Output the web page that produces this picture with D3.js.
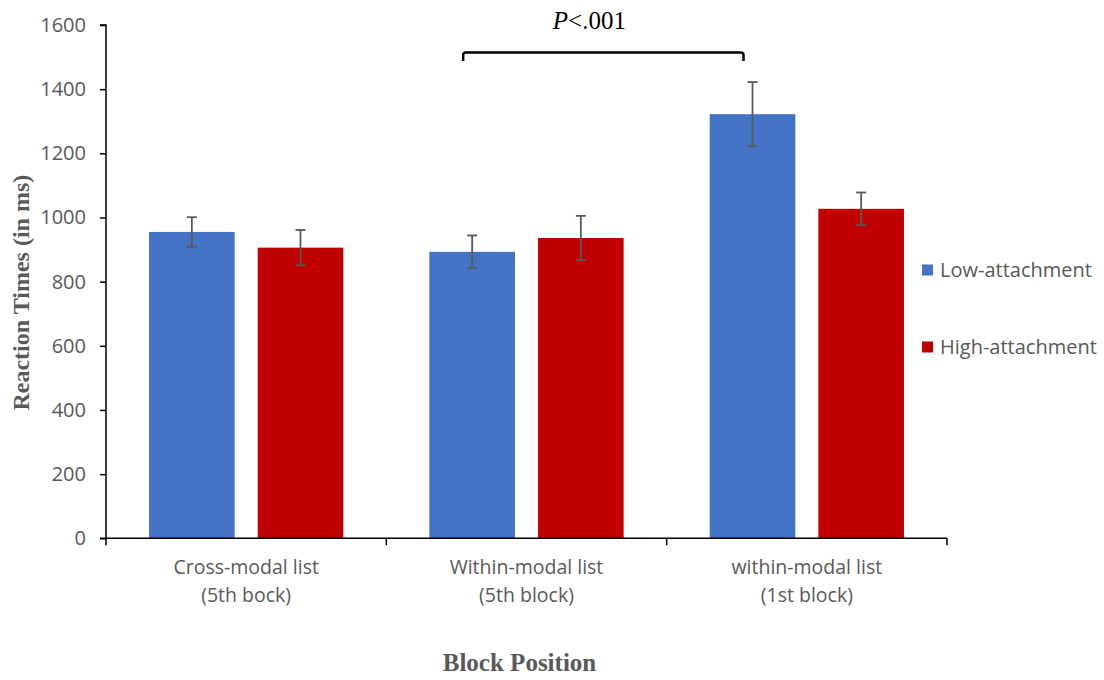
<!DOCTYPE html>
<html><head><meta charset="utf-8">
<script src="https://cdn.jsdelivr.net/npm/d3@7"></script>
<style>body{margin:0;background:#fff}</style>
</head><body>
<svg id="c" width="1104" height="680"></svg>
<script>
const categories = [["Cross-modal list","(5th bock)"],["Within-modal list","(5th block)"],["within-modal list","(1st block)"]];
const seriesNames = ["Low-attachment","High-attachment"];
const lowValues = [955, 893, 1322];
const highValues = [906, 936, 1027];
const lowErrors = [46, 51, 100];
const highErrors = [55, 69, 51];
const yTicks = [0,200,400,600,800,1000,1200,1400,1600];
const colors = ["#4472C4","#C00000"];

(function(){
const svg = d3.select("#c");
const pLeft = 106, pRight = 947, pTop = 25, pBottom = 538.3;
const catIdx = [0,1,2];
const x = d3.scaleBand().domain(catIdx).range([pLeft,pRight]).paddingInner(0).paddingOuter(0);
const xs = d3.scaleBand().domain([0,1]).range([0,x.bandwidth()]).paddingInner(0.212).paddingOuter(0.396);
const y = d3.scaleLinear().domain([0,1600]).range([pBottom,pTop]);

const data = [];
catIdx.forEach(i=>{
  data.push({c:i,s:0,v:lowValues[i],e:lowErrors[i]});
  data.push({c:i,s:1,v:highValues[i],e:highErrors[i]});
});

svg.append("g").selectAll("rect").data(data).join("rect")
  .attr("x",d=>x(d.c)+xs(d.s)).attr("width",xs.bandwidth())
  .attr("y",d=>y(d.v)).attr("height",d=>y(0)-y(d.v))
  .attr("fill",d=>colors[d.s]);

const eg = svg.append("g").attr("stroke","#595959").attr("stroke-width",1.8);
data.forEach(d=>{
  const cx = x(d.c)+xs(d.s)+xs.bandwidth()/2;
  eg.append("line").attr("x1",cx).attr("x2",cx).attr("y1",y(d.v+d.e)).attr("y2",y(d.v-d.e));
  eg.append("line").attr("x1",cx-5).attr("x2",cx+5).attr("y1",y(d.v+d.e)).attr("y2",y(d.v+d.e));
  eg.append("line").attr("x1",cx-5).attr("x2",cx+5).attr("y1",y(d.v-d.e)).attr("y2",y(d.v-d.e));
});

const yAxis = svg.append("g").attr("transform",`translate(${pLeft},0)`)
  .call(d3.axisLeft(y).tickValues(yTicks).tickSize(6).tickPadding(14).tickFormat(d3.format("d")));
yAxis.select(".domain").attr("stroke","#000").attr("stroke-width",1.5).attr("d",`M-6,${pTop}H0V${pBottom}`);
yAxis.selectAll(".tick line").attr("stroke","#000").attr("stroke-width",1.5);
yAxis.selectAll(".tick text").attr("fill","#595959").style("font-family","'Open Sans', sans-serif").style("font-size","20px");

const xg = svg.append("g").attr("transform",`translate(0,${pBottom})`);
xg.append("line").attr("x1",pLeft-6).attr("x2",pRight).attr("y1",0).attr("y2",0).attr("stroke","#000").attr("stroke-width",1.5);
[0,1,2,3].forEach(k=>{
  const xx = k<3 ? x(k) : pRight;
  xg.append("line").attr("x1",xx).attr("x2",xx).attr("y1",0).attr("y2",7).attr("stroke","#000").attr("stroke-width",1.5);
});
catIdx.forEach(i=>{
  const cx = x(i)+x.bandwidth()/2;
  const t = xg.append("text").attr("text-anchor","middle")
    .attr("fill","#595959").style("font-family","'Open Sans', sans-serif").style("font-size","19.5px");
  t.append("tspan").attr("x",cx).attr("y",36).text(categories[i][0]);
  t.append("tspan").attr("x",cx).attr("y",64).text(categories[i][1]);
});

svg.append("text").attr("x",(pLeft+pRight)/2-7).attr("y",671).attr("text-anchor","middle")
  .attr("fill","#595959").style("font-family","'Liberation Serif', 'Times New Roman', serif").style("font-weight","bold").style("font-size","25px")
  .text("Block Position");
svg.append("text").attr("transform",`translate(29,${(pTop+pBottom)/2+11}) rotate(-90)`).attr("text-anchor","middle")
  .attr("fill","#595959").style("font-family","'Liberation Serif', 'Times New Roman', serif").style("font-weight","bold").style("font-size","24px")
  .text("Reaction Times (in ms)");

const b1 = x(1)+xs(0)+xs.bandwidth()/2-9;
const b2 = x(2)+xs(0)+xs.bandwidth()/2-9;
svg.append("path").attr("d",`M${b1},61V55Q${b1},52.5 ${b1+3},52.5H${b2-3}Q${b2},52.5 ${b2},55V61`)
  .attr("fill","none").attr("stroke","#000").attr("stroke-width",2.5);
const pt = svg.append("text").attr("x",(b1+b2)/2-14).attr("y",29).attr("text-anchor","middle")
  .style("font-family","'Liberation Serif', 'Times New Roman', serif").style("font-size","25px").attr("fill","#000");
pt.append("tspan").style("font-style","italic").text("P");
pt.append("tspan").text("<.001");

const lg = svg.append("g");
seriesNames.forEach((n,i)=>{
  const cy = 270 + i*77;
  lg.append("rect").attr("x",922).attr("y",cy-5.5).attr("width",11).attr("height",11).attr("fill",colors[i]);
  lg.append("text").attr("x",940).attr("y",cy+7).attr("fill","#595959")
    .style("font-family","'Open Sans', sans-serif").style("font-size","20px").text(n);
});
})();
</script>
</body></html>
